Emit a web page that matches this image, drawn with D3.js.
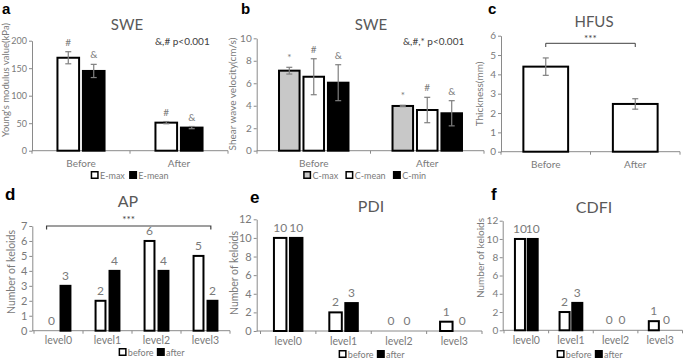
<!DOCTYPE html>
<html><head><meta charset="utf-8">
<script src="https://cdn.jsdelivr.net/npm/d3@7/dist/d3.min.js"></script>
<style>
body{margin:0;background:#fff}
svg{display:block}
text{font-family:Lato,"Open Sans",sans-serif}
</style>
</head><body>
<svg id="chart" width="685" height="360"></svg>
<script>
// ---------------- DATA ----------------
const sweGroups = ["Before", "After"];
const eSeries = ["E-max", "E-mean"];
const eMax = [169, 51];
const eMaxErr = [11, 2];
const eMean = [145, 42];
const eMeanErr = [12, 2];
const eMarks = ["#", "&"];
const eTicks = [0, 50, 100, 150, 200];

const cSeries = ["C-max", "C-mean", "C-min"];
const cMax = [7.12, 3.98];
const cMaxErr = [0.3, 0.06];
const cMean = [6.58, 3.62];
const cMeanErr = [1.6, 1.13];
const cMin = [6.05, 3.33];
const cMinErr = [1.6, 1.12];
const cMarks = ["*", "#", "&"];
const cTicks = [0, 2, 4, 6, 8, 10];

const hfusGroups = ["Before", "After"];
const thickness = [4.40, 2.47];
const thicknessErr = [0.45, 0.27];
const hfusTicks = [0, 1, 2, 3, 4, 5, 6];

const levels = ["level0", "level1", "level2", "level3"];
const keloidSeries = ["before", "after"];
const apBefore = [0, 2, 6, 5];
const apAfter = [3, 4, 4, 2];
const apTicks = [0, 1, 2, 3, 4, 5, 6, 7];
const pdiBefore = [10, 2, 0, 1];
const pdiAfter = [10, 3, 0, 0];
const cdfiBefore = [10, 2, 0, 1];
const cdfiAfter = [10, 3, 0, 0];
const countTicks = [0, 2, 4, 6, 8, 10, 12];

// ---------------- DRAW ----------------
const svg = d3.select("#chart");
const AXIS = "#8a8a8a", TXT = "#7a7a7a", ERR = "#7f7f7f", TITLE = "#595959";

function panel(o) {
  const g = svg.append("g");
  const y = d3.scaleLinear().domain([0, o.yMax]).range([o.bottom, o.top]);
  const x = d3.scaleBand().domain(o.groups).range([o.bandL, o.bandR]);
  const inner = d3.scaleBand().domain(o.series.map(s => s.name))
    .range([0, x.bandwidth()]).paddingInner(o.pi).paddingOuter(o.po);
  const bw = inner.bandwidth();

  // y axis
  const ya = g.append("g").attr("transform", `translate(${o.left},0)`)
    .call(d3.axisLeft(y).tickValues(o.ticks).tickFormat(d3.format("d"))
      .tickSize(3).tickSizeOuter(0).tickPadding(o.tickPad || 2));
  ya.select(".domain").attr("stroke", AXIS);
  ya.selectAll(".tick line").attr("stroke", AXIS);
  ya.selectAll(".tick text").attr("fill", TXT).style("font-size", o.tickFs + "px")
    .style("font-family", "Lato");

  // x axis
  g.append("line").attr("x1", o.left).attr("x2", o.bandR)
    .attr("y1", o.bottom).attr("y2", o.bottom).attr("stroke", AXIS).attr("stroke-width", 1);
  const bounds = o.groups.map(d => x(d)).concat([o.bandR]);
  g.selectAll(".xt").data(bounds).join("line")
    .attr("x1", d => d).attr("x2", d => d).attr("y1", o.bottom).attr("y2", o.bottom + 3)
    .attr("stroke", AXIS);
  g.selectAll(".xl").data(o.groups).join("text")
    .attr("x", d => x(d) + x.bandwidth() / 2 + (o.labDx || 0))
    .attr("y", o.bottom + o.labDy)
    .attr("text-anchor", "middle").attr("fill", TXT)
    .style("font-size", o.catFs + "px").text(d => d);

  // bars
  o.series.forEach(s => {
    s.values.forEach((v, i) => {
      const bx = x(o.groups[i]) + inner(s.name);
      if (v > 0) {
        g.append("rect").attr("x", bx).attr("y", y(v))
          .attr("width", bw).attr("height", y(0) - y(v))
          .attr("fill", s.fill).attr("stroke", "#000").attr("stroke-width", 2);
      }
      const cx = bx + bw / 2;
      if (s.errs) {
        const e = s.errs[i];
        const cap = o.cap || 3;
        g.append("line").attr("x1", cx).attr("x2", cx).attr("y1", y(v + e)).attr("y2", y(v - e))
          .attr("stroke", ERR).attr("stroke-width", 1.2);
        [v + e, v - e].forEach(t => g.append("line").attr("x1", cx - cap).attr("x2", cx + cap)
          .attr("y1", y(t)).attr("y2", y(t)).attr("stroke", ERR).attr("stroke-width", 1.2));
        if (s.mark) {
          g.append("text").attr("x", cx).attr("y", y(v + e) - 6)
            .attr("text-anchor", "middle").attr("fill", TXT)
            .style("font-size", "10px").text(s.mark);
        }
      }
      if (o.valueLabels) {
        g.append("text").attr("x", cx).attr("y", y(v) - 6)
          .attr("text-anchor", "middle").attr("fill", TXT)
          .style("font-size", o.valFs + "px").text(v);
      }
    });
  });

  // title
  g.append("text").attr("x", o.titleX).attr("y", o.titleY).attr("text-anchor", "middle")
    .attr("fill", TITLE).style("font-size", o.titleFs + "px").text(o.title);
  // y label
  g.append("text").attr("transform", `translate(${o.ylX},${o.ylY}) rotate(-90)`)
    .attr("text-anchor", "middle").attr("dominant-baseline", "central")
    .attr("fill", TXT).style("font-size", o.ylFs + "px").text(o.ylabel);
  // panel letter
  g.append("text").attr("x", o.letterX).attr("y", o.letterY)
    .style("font-family", "'Liberation Sans',Arial,sans-serif").style("font-weight", "bold")
    .style("font-size", o.letterFs + "px").attr("fill", "#000").text(o.letter);

  // legend
  if (o.legend) {
    const lg = g.append("g");
    let cur = 0;
    const sw = 6.5;
    o.series.forEach(s => {
      lg.append("rect").attr("x", cur).attr("y", -sw / 2).attr("width", sw).attr("height", sw)
        .attr("fill", s.fill).attr("stroke", "#000").attr("stroke-width", 1.5);
      const t = lg.append("text").attr("x", cur + sw + 2).attr("y", 0)
        .attr("dominant-baseline", "central").attr("fill", TXT)
        .style("font-size", o.legFs + "px").text(s.name);
      cur += sw + 2 + t.node().getComputedTextLength() + o.legGap;
    });
    const total = cur - o.legGap;
    lg.attr("transform", `translate(${o.legCx - total / 2},${o.legCy})`);
  }
  return {g, x, y, inner, bw};
}

// Panel a
panel({
  left: 32, bandL: 32, bandR: 228, top: 40.7, bottom: 150.7, yMax: 200, ticks: eTicks,
  groups: sweGroups, pi: 0.15, po: 1, tickFs: 9, catFs: 10, labDy: 16,
  series: [
    {name: eSeries[0], values: eMax, errs: eMaxErr, fill: "#fff", mark: eMarks[0]},
    {name: eSeries[1], values: eMean, errs: eMeanErr, fill: "#000", mark: eMarks[1]}
  ],
  title: "SWE", titleX: 127, titleY: 30, titleFs: 15,
  ylabel: "Young's modulus value(kPa)", ylX: 5.5, ylY: 80, ylFs: 9.5,
  letter: "a", letterX: 2, letterY: 14, letterFs: 15,
  legend: true, legCx: 130, legCy: 175, legFs: 9, legGap: 5
});
svg.append("text").attr("x", 155).attr("y", 45).attr("fill", "#404040")
  .style("font-size", "10px").text("&,#  p<0.001");

// Panel b
panel({
  left: 256.7, bandL: 257, bandR: 484, top: 38.3, bottom: 150.7, yMax: 10, ticks: cTicks,
  groups: sweGroups, pi: 0.16, po: 0.9, tickFs: 10, catFs: 10, labDy: 16,
  series: [
    {name: cSeries[0], values: cMax, errs: cMaxErr, fill: "#c8c8c8", mark: cMarks[0]},
    {name: cSeries[1], values: cMean, errs: cMeanErr, fill: "#fff", mark: cMarks[1]},
    {name: cSeries[2], values: cMin, errs: cMinErr, fill: "#000", mark: cMarks[2]}
  ],
  title: "SWE", titleX: 371, titleY: 30, titleFs: 15,
  ylabel: "Shear wave velocity(cm/s)", ylX: 232, ylY: 94, ylFs: 10,
  letter: "b", letterX: 241, letterY: 14, letterFs: 15,
  legend: true, legCx: 365, legCy: 175, legFs: 9, legGap: 8
});
svg.append("text").attr("x", 403).attr("y", 45).attr("fill", "#404040")
  .style("font-size", "10px").text("&,#,*  p<0.001");

// Panel c
const pc = panel({
  left: 501, bandL: 501, bandR: 680, top: 35.7, bottom: 151.7, yMax: 6, ticks: hfusTicks,
  groups: hfusGroups, pi: 0.32, po: 0.34, tickFs: 10, catFs: 10, labDy: 16,
  series: [{name: "Thickness", values: thickness, errs: thicknessErr, fill: "#fff"}],
  title: "HFUS", titleX: 594, titleY: 27, titleFs: 15,
  ylabel: "Thickness(mm)", ylX: 478.5, ylY: 94, ylFs: 10,
  letter: "c", letterX: 488, letterY: 14, letterFs: 15,
  legend: false
});
{
  const xa = pc.x(hfusGroups[0]) + pc.inner("Thickness") + pc.bw / 2;
  const xb = pc.x(hfusGroups[1]) + pc.inner("Thickness") + pc.bw / 2;
  svg.append("path").attr("d", `M${xa},47 V43.3 H${xb} V47`).attr("fill", "none")
    .attr("stroke", "#404040").attr("stroke-width", 1);
  svg.append("text").attr("x", (xa + xb) / 2).attr("y", 42).attr("text-anchor", "middle")
    .attr("fill", "#404040").style("font-size", "10px").text("***");
}

// Panel d
const pd = panel({
  left: 32.3, bandL: 34, bandR: 230, top: 226, bottom: 330.7, yMax: 7, ticks: apTicks,
  groups: levels, pi: 0.29, po: 0.9, tickFs: 11, catFs: 10.5, labDy: 13.5,
  series: [
    {name: keloidSeries[0], values: apBefore, fill: "#fff"},
    {name: keloidSeries[1], values: apAfter, fill: "#000"}
  ],
  valueLabels: true, valFs: 12,
  title: "AP", titleX: 128, titleY: 207, titleFs: 16,
  ylabel: "Number of keloids", ylX: 11, ylY: 272, ylFs: 10.5,
  letter: "d", letterX: 5, letterY: 200, letterFs: 17,
  legend: true, legCx: 152, legCy: 352, legFs: 9, legGap: 4
});
{
  const xa = pd.x(levels[0]) + pd.inner(keloidSeries[0]);
  const xb = pd.x(levels[3]) + pd.inner(keloidSeries[1]) + pd.bw / 3;
  svg.append("path").attr("d", `M${xa},229.5 V226 H${xb} V229.5`).attr("fill", "none")
    .attr("stroke", "#404040").attr("stroke-width", 1.2);
  svg.append("text").attr("x", (xa + xb) / 2).attr("y", 223).attr("text-anchor", "middle")
    .attr("fill", "#404040").style("font-size", "10px").text("***");
}

// Panel e
panel({
  left: 256.7, bandL: 260.5, bandR: 482, top: 219.3, bottom: 331, yMax: 12, ticks: countTicks,
  groups: levels, pi: 0.22, po: 0.84, tickFs: 11, catFs: 10.5, labDy: 13.5,
  series: [
    {name: keloidSeries[0], values: pdiBefore, fill: "#fff"},
    {name: keloidSeries[1], values: pdiAfter, fill: "#000"}
  ],
  valueLabels: true, valFs: 12,
  title: "PDI", titleX: 371, titleY: 212, titleFs: 16,
  ylabel: "Number of keloids", ylX: 234, ylY: 273, ylFs: 10.5,
  letter: "e", letterX: 250, letterY: 203, letterFs: 17,
  legend: true, legCx: 372, legCy: 354, legFs: 9, legGap: 4
});

// Panel f
panel({
  left: 502.7, bandL: 504, bandR: 682.5, top: 220.7, bottom: 330.3, yMax: 12, ticks: countTicks,
  groups: levels, pi: 0.21, po: 0.86, tickFs: 10, tickPad: 1.5, catFs: 10.5, labDy: 13.5,
  series: [
    {name: keloidSeries[0], values: cdfiBefore, fill: "#fff"},
    {name: keloidSeries[1], values: cdfiAfter, fill: "#000"}
  ],
  valueLabels: true, valFs: 12,
  title: "CDFI", titleX: 594, titleY: 213, titleFs: 16,
  ylabel: "Number of keloids", ylX: 479.5, ylY: 258, ylFs: 10,
  letter: "f", letterX: 491, letterY: 200, letterFs: 17,
  legend: true, legCx: 590, legCy: 354, legFs: 9, legGap: 4
});
</script>
</body></html>
